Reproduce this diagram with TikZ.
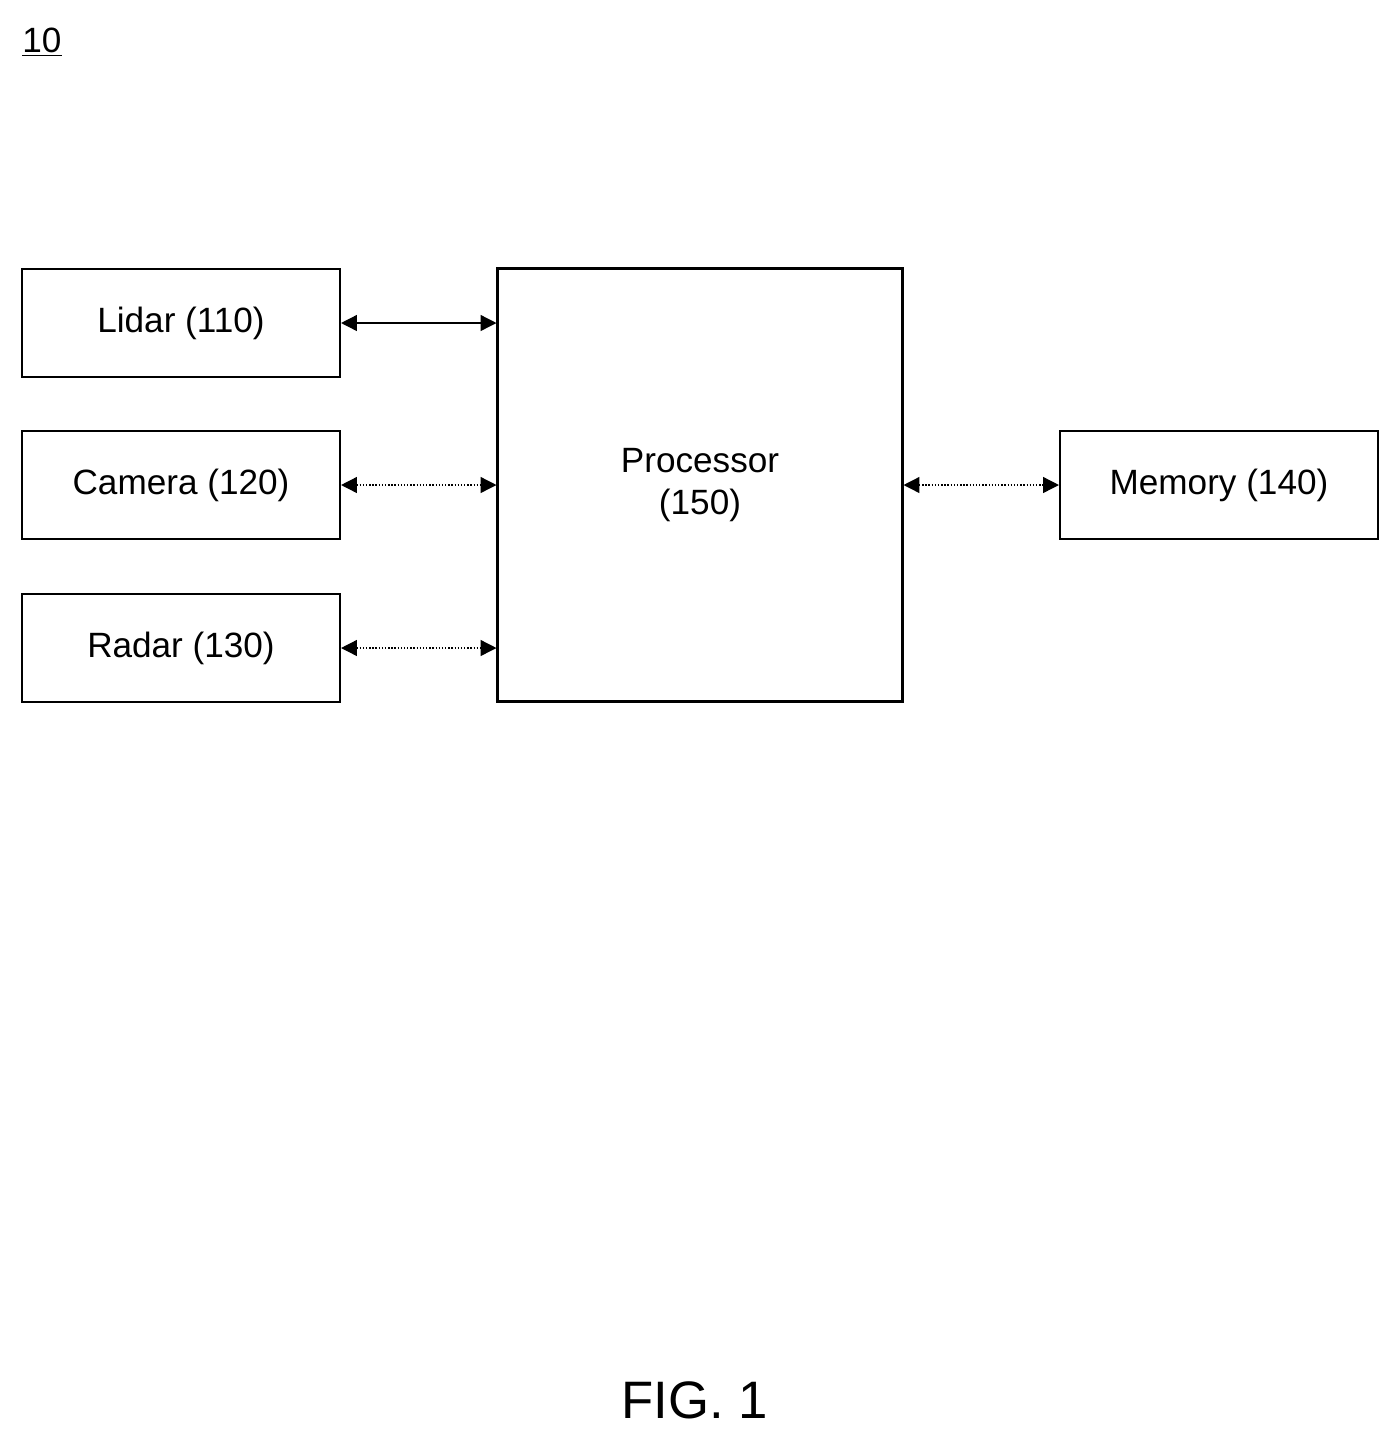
\documentclass[tikz,border=0pt]{standalone}
\usepackage{fontspec}
\setmainfont{Liberation Sans}
\usetikzlibrary{arrows.meta}
\tikzset{
  block/.style={draw=black, line width=1.2pt, minimum width=6.36cm, minimum height=2.16cm,
    font=\fontsize{20}{24}\selectfont, align=center},
  link/.style={line width=0.8pt, {Triangle[length=9pt,width=9pt]}-{Triangle[length=9pt,width=9pt]}},
  dlink/.style={link, densely dotted}
}
\begin{document}
\begin{tikzpicture}[x=0.02cm,y=-0.02cm]
\useasboundingbox (0,0) rectangle (1400,1441);

%label
\node (fig) at (42,42) {\fontsize{20}{24}\selectfont\underline{10}};

%sensors
\node[block] (lidar) at (181,323) {Lidar (110)};
\node[block] (camera) at (181,485) {Camera (120)};
\node[block] (radar) at (181,648) {Radar (130)};

%processor
\node[block, minimum width=8.1cm, minimum height=8.66cm] (proc) at (700,485) {Processor\\(150)};

%memory
\node[block] (mem) at (1219,485) {Memory (140)};

%links
\draw[link] (lidar.east) -- (lidar.east -| proc.west);
\draw[dlink] (camera.east) -- (camera.east -| proc.west);
\draw[dlink] (radar.east) -- (radar.east -| proc.west);
\draw[dlink] (proc.east) -- (mem.west);

\node (caption) at (695,1400) {\fontsize{30}{36}\selectfont FIG. 1};
\end{tikzpicture}
\end{document}
